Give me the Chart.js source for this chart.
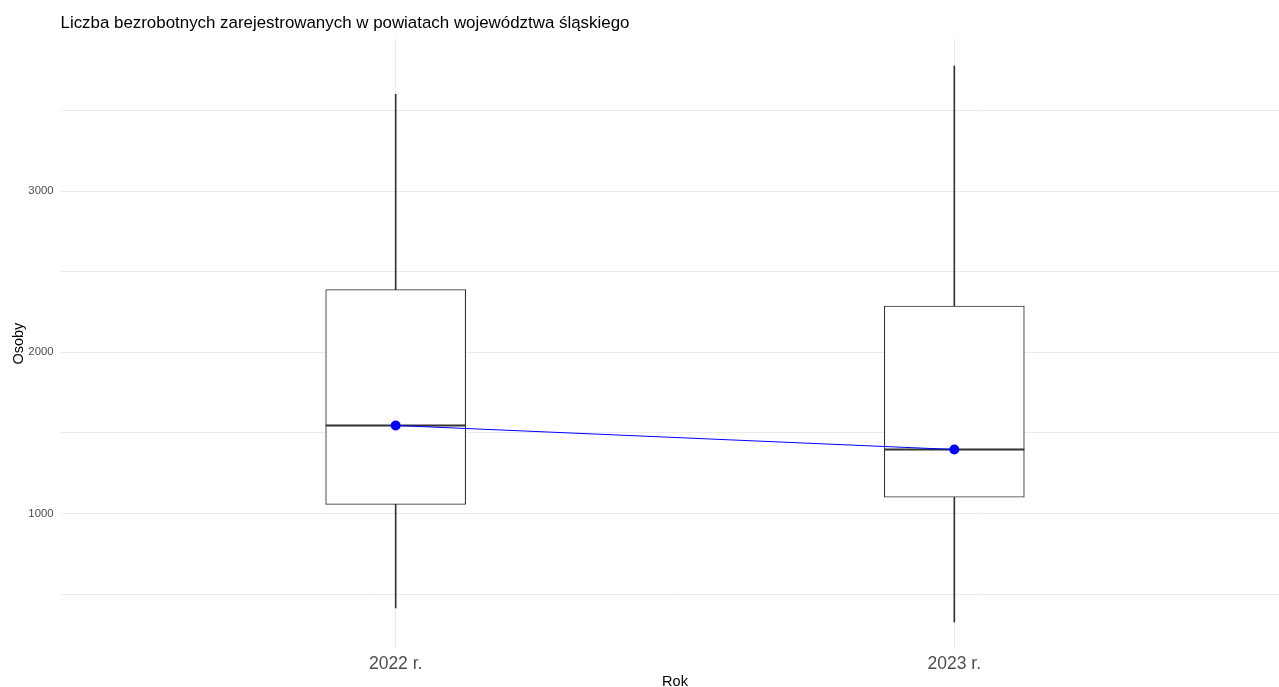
<!DOCTYPE html>
<html>
<head>
<meta charset="utf-8">
<script src="https://cdn.jsdelivr.net/npm/chart.js@4.4.1/dist/chart.umd.min.js"></script>
<style>
  html, body { margin: 0; padding: 0; background: #ffffff; overflow: hidden; }
  #wrap { position: relative; width: 1297px; height: 687px; }
</style>
</head>
<body>
<div id="wrap"><canvas id="c" width="1297" height="687"></canvas></div>
<script>
const categories = ["2022 r.", "2023 r."];
const whiskerLow  = [415, 328];
const boxQ1       = [1056, 1101];
const boxMedian   = [1546, 1397];
const boxQ3       = [2389, 2287];
const whiskerHigh = [3600, 3775];
const summaryLine = [1546, 1397];
const yTickValues = [500, 1000, 1500, 2000, 2500, 3000, 3500];

const FONT = "'Liberation Sans', Arial, 'DejaVu Sans', sans-serif";
const pos = categories.map((c, i) => i + 1);

const whiskerData = pos.map((x, i) => ({ x: x, y: [whiskerLow[i], whiskerHigh[i]] }));
const boxData = pos.map((x, i) => ({ x: x, y: [boxQ1[i], boxQ3[i]] }));
const medianData = pos.map((x, i) => ({ x: x, y: boxMedian[i] }));
const lineData = pos.map((x, i) => ({ x: x, y: summaryLine[i] }));

new Chart(document.getElementById('c'), {
  type: 'bar',
  data: {
    datasets: [
      {
        type: 'bar', label: 'whiskers', data: whiskerData, order: 4,
        grouped: false, barThickness: 1, backgroundColor: '#333333',
        borderWidth: 0
      },
      {
        type: 'bar', label: 'box', data: boxData, order: 3,
        grouped: false, barThickness: 140, backgroundColor: '#ffffff',
        borderColor: '#333333', borderWidth: 1.1, borderSkipped: false
      },
      {
        type: 'line', label: 'median', data: medianData, order: 2,
        showLine: false, pointStyle: 'line', pointRadius: 70,
        pointBorderWidth: 2.2, pointBorderColor: '#333333', borderColor: '#333333'
      },
      {
        type: 'line', label: 'summary', data: lineData, order: 1,
        borderColor: '#0000ff', borderWidth: 1, pointRadius: 5,
        pointBackgroundColor: '#0000ff', pointBorderWidth: 0, tension: 0
      }
    ]
  },
  options: {
    responsive: false,
    animation: false,
    events: [],
    layout: { autoPadding: false, padding: { left: 10, right: 7.5, top: 0, bottom: 0 } },
    plugins: {
      legend: { display: false },
      tooltip: { enabled: false },
      title: {
        display: true,
        text: 'Liczba bezrobotnych zarejestrowanych w powiatach województwa śląskiego',
        align: 'start',
        fullSize: false,
        color: '#000000',
        font: { family: FONT, size: 16.9, weight: 'normal', lineHeight: 1.2 },
        padding: { top: 12.9, bottom: 5.1 }
      }
    },
    scales: {
      x: {
        type: 'linear',
        min: 0.4, max: 2.6,
        offset: false,
        afterBuildTicks: s => { s.ticks = pos.map(v => ({ value: v })); },
        afterFit: s => { s.height = 38; },
        ticks: {
          callback: (v) => categories[Math.round(v) - 1] || '',
          color: '#4d4d4d',
          font: { family: FONT, size: 17.5 },
          padding: 4.5,
          maxRotation: 0, autoSkip: false
        },
        grid: { color: '#ebebeb', lineWidth: 1, drawTicks: false, offset: false },
        border: { display: false },
        title: {
          display: true, text: 'Rok', color: '#000000',
          font: { family: FONT, size: 14.5, lineHeight: 1 },
          padding: { top: 0, bottom: -2.5 }
        }
      },
      y: {
        type: 'linear',
        min: 160, max: 3947,
        afterBuildTicks: s => { s.ticks = yTickValues.map(v => ({ value: v })); },
        afterFit: s => { s.width = 50.5; },
        ticks: {
          callback: (v) => (v % 1000 === 0 ? String(v) : ''),
          color: '#4d4d4d',
          font: { family: FONT, size: 11.3 },
          padding: 7,
          autoSkip: false
        },
        grid: { color: '#ebebeb', lineWidth: 1, drawTicks: false },
        border: { display: false },
        title: {
          display: true, text: 'Osoby', color: '#000000',
          font: { family: FONT, size: 14.5, lineHeight: 1 },
          padding: { top: 2, bottom: 0 }
        }
      }
    }
  }
});
</script>
</body>
</html>
